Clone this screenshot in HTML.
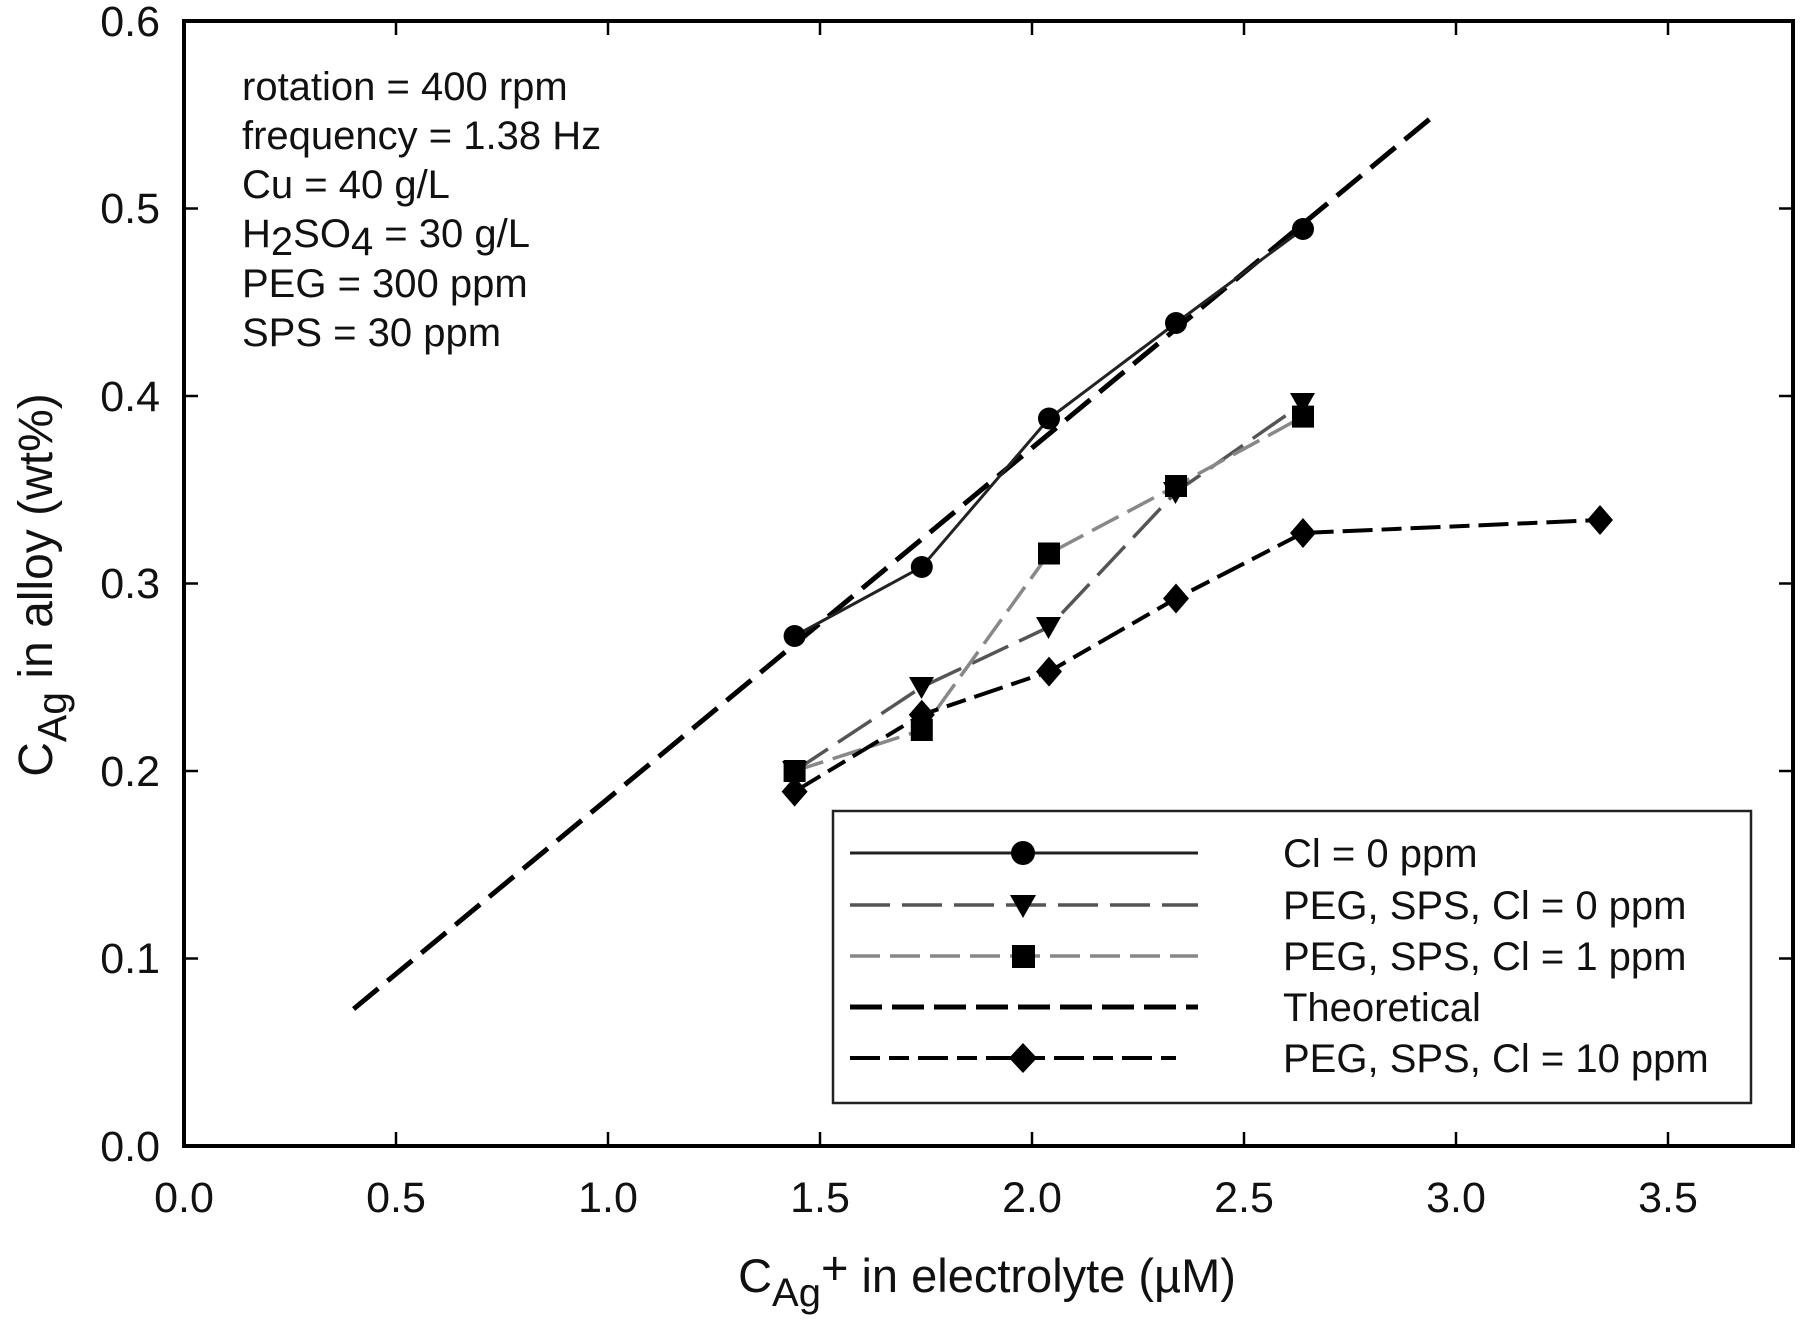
<!DOCTYPE html>
<html><head><meta charset="utf-8"><style>html,body{margin:0;padding:0;background:#fff}</style></head>
<body>
<svg width="1800" height="1322" xmlns="http://www.w3.org/2000/svg" font-family="Liberation Sans, sans-serif">
<rect width="1800" height="1322" fill="#fff"/>
<rect x="184" y="21" width="1609" height="1125" fill="none" stroke="#000" stroke-width="4"/>
<g stroke="#000" stroke-width="2.5">
<line x1="396" y1="1146" x2="396" y2="1132"/><line x1="608" y1="1146" x2="608" y2="1132"/><line x1="820" y1="1146" x2="820" y2="1132"/><line x1="1032" y1="1146" x2="1032" y2="1132"/><line x1="1244" y1="1146" x2="1244" y2="1132"/><line x1="1456" y1="1146" x2="1456" y2="1132"/><line x1="1668" y1="1146" x2="1668" y2="1132"/>
<line x1="396" y1="21" x2="396" y2="35"/><line x1="608" y1="21" x2="608" y2="35"/><line x1="820" y1="21" x2="820" y2="35"/><line x1="1032" y1="21" x2="1032" y2="35"/><line x1="1244" y1="21" x2="1244" y2="35"/><line x1="1456" y1="21" x2="1456" y2="35"/><line x1="1668" y1="21" x2="1668" y2="35"/>
<line x1="184" y1="958.5" x2="198" y2="958.5"/><line x1="184" y1="771" x2="198" y2="771"/><line x1="184" y1="583.5" x2="198" y2="583.5"/><line x1="184" y1="396" x2="198" y2="396"/><line x1="184" y1="208.5" x2="198" y2="208.5"/>
<line x1="1793" y1="958.5" x2="1779" y2="958.5"/><line x1="1793" y1="771" x2="1779" y2="771"/><line x1="1793" y1="583.5" x2="1779" y2="583.5"/><line x1="1793" y1="396" x2="1779" y2="396"/><line x1="1793" y1="208.5" x2="1779" y2="208.5"/>
</g>
<g font-size="43" fill="#111" text-anchor="end">
<text x="160" y="1161">0.0</text><text x="160" y="973">0.1</text><text x="160" y="786">0.2</text><text x="160" y="598">0.3</text><text x="160" y="411">0.4</text><text x="160" y="223">0.5</text><text x="160" y="36">0.6</text>
</g>
<g font-size="43" fill="#111" text-anchor="middle">
<text x="184" y="1212">0.0</text><text x="396" y="1212">0.5</text><text x="608" y="1212">1.0</text><text x="820" y="1212">1.5</text><text x="1032" y="1212">2.0</text><text x="1244" y="1212">2.5</text><text x="1456" y="1212">3.0</text><text x="1668" y="1212">3.5</text>
</g>
<text x="987" y="1292" font-size="47" fill="#111" text-anchor="middle">C<tspan font-size="40" dy="14">Ag</tspan><tspan dy="-22">+</tspan><tspan dy="8"> in electrolyte (µM)</tspan></text>
<text transform="translate(52,585) rotate(-90)" font-size="48" fill="#111" text-anchor="middle">C<tspan font-size="41" dy="14">Ag</tspan><tspan dy="-14"> in alloy (wt%)</tspan></text>
<g font-size="40" fill="#111">
<text x="242" y="100">rotation = 400 rpm</text>
<text x="242" y="149">frequency = 1.38 Hz</text>
<text x="242" y="198">Cu = 40 g/L</text>
<text x="242" y="247">H<tspan dy="8">2</tspan><tspan dy="-8">SO</tspan><tspan dy="8">4</tspan><tspan dy="-8"> = 30 g/L</tspan></text>
<text x="242" y="297">PEG = 300 ppm</text>
<text x="242" y="346">SPS = 30 ppm</text>
</g>
<polyline points="353.6,1009 1434.8,114.8" fill="none" stroke="#000" stroke-width="5" stroke-dasharray="32,12"/>
<polyline points="794.6,636 921.8,567 1049,418.5 1176,323 1303,229" fill="none" stroke="#222" stroke-width="3"/>
<polyline points="794.6,771 921.8,687 1049,627 1176,492 1303,403.5" fill="none" stroke="#555" stroke-width="3.5" stroke-dasharray="40,12"/>
<polyline points="794.6,771 921.8,730 1049,553.5 1176,486 1303,416.6" fill="none" stroke="#888" stroke-width="3.5" stroke-dasharray="30,10"/>
<polyline points="794.6,791.6 921.8,714.8 1049,671.6 1176,598.5 1303,533 1600,520" fill="none" stroke="#000" stroke-width="4" stroke-dasharray="30,9,20,9"/>
<g fill="#000">
<circle cx="794.6" cy="636" r="11"/><circle cx="921.8" cy="567" r="11"/><circle cx="1049" cy="418.5" r="11"/><circle cx="1176" cy="323" r="11"/><circle cx="1303" cy="229" r="11"/>
<path d="M782,761h25l-12.5,22z M909,677h25l-12.5,22z M1036,617h25l-12.5,22z M1163,482h25l-12.5,22z M1290,393h25l-12.5,22z"/>
<rect x="783.6" y="760" width="22" height="22"/><rect x="910.8" y="719" width="22" height="22"/><rect x="1038" y="542.5" width="22" height="22"/><rect x="1165" y="475" width="22" height="22"/><rect x="1292" y="405.6" width="22" height="22"/>
<path d="M794.6,776.6l13,15l-13,15l-13,-15z M921.8,699.8l13,15l-13,15l-13,-15z M1049,656.6l13,15l-13,15l-13,-15z M1176,583.5l13,15l-13,15l-13,-15z M1303,518l13,15l-13,15l-13,-15z M1600,505l13,15l-13,15l-13,-15z"/>
</g>
<rect x="833" y="811" width="918" height="292" fill="#fff" stroke="#222" stroke-width="2.5"/>
<line x1="850" y1="853" x2="1198" y2="853" stroke="#222" stroke-width="3"/>
<line x1="850" y1="905" x2="1198" y2="905" stroke="#555" stroke-width="3.5" stroke-dasharray="40,12"/>
<line x1="850" y1="956" x2="1198" y2="956" stroke="#888" stroke-width="3.5" stroke-dasharray="30,10"/>
<line x1="850" y1="1007" x2="1198" y2="1007" stroke="#000" stroke-width="5" stroke-dasharray="32,10"/>
<line x1="850" y1="1058" x2="1176" y2="1058" stroke="#000" stroke-width="4" stroke-dasharray="30,9,20,9"/>
<g fill="#000">
<circle cx="1023" cy="853" r="12"/>
<path d="M1010,895h26l-13,23z"/>
<rect x="1012" y="945" width="23" height="23"/>
<path d="M1023,1043l14,15l-14,15l-14,-15z"/>
</g>
<g font-size="40" fill="#111">
<text x="1283" y="867">Cl = 0 ppm</text>
<text x="1283" y="919">PEG, SPS, Cl = 0 ppm</text>
<text x="1283" y="970">PEG, SPS, Cl = 1 ppm</text>
<text x="1283" y="1021">Theoretical</text>
<text x="1283" y="1072">PEG, SPS, Cl = 10 ppm</text>
</g>
</svg>
</body></html>
